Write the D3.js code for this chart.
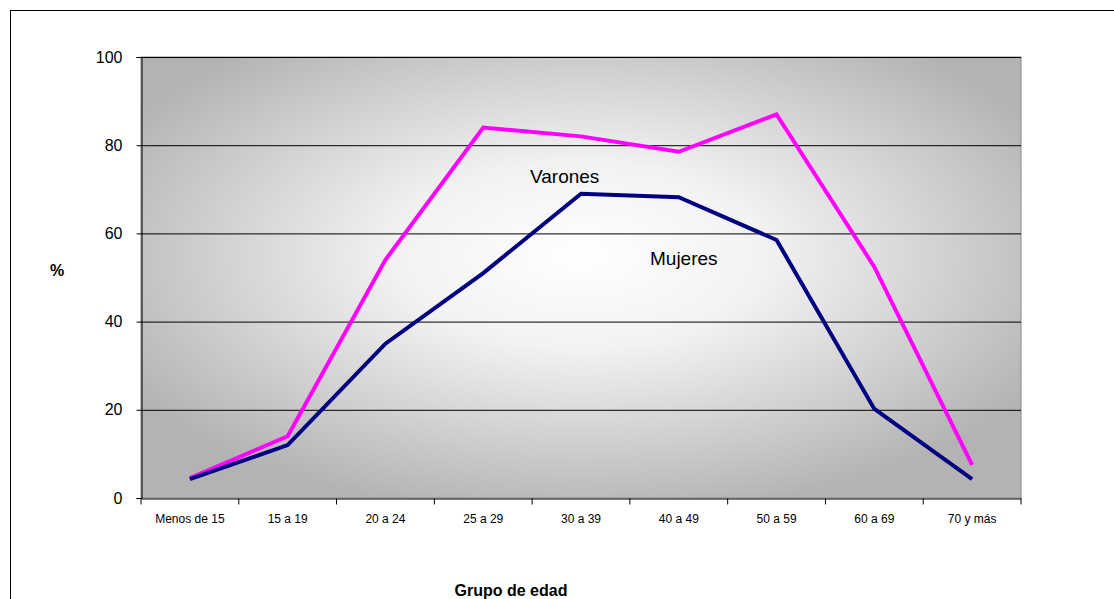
<!DOCTYPE html>
<html><head><meta charset="utf-8">
<script src="https://cdn.jsdelivr.net/npm/d3@7"></script>
<style>body{margin:0;background:#fff;font-family:"Liberation Sans",Arial,sans-serif}</style>
</head><body><div id="chart"></div>
<script>
const categories = ["Menos de 15","15 a 19","20 a 24","25 a 29","30 a 39","40 a 49","50 a 59","60 a 69","70 y más"];
const magenta = [4.5,14,54,84,82,78.5,87,52.4,7.5];
const navy = [4.3,12,35,51,69,68.2,58.5,20.2,4.3];
const yTicks = [0,20,40,60,80,100];

const W = 1114, H = 599;
const m = {left:141, right:93, top:57, bottom:101};
const svg = d3.select("#chart").append("svg").attr("width",W).attr("height",H)
  .style("font-family","Liberation Sans, Arial, sans-serif");
svg.append("rect").attr("x",10.5).attr("y",10.5).attr("width",W).attr("height",H)
  .attr("fill","#fff").attr("stroke","#000");

const defs = svg.append("defs");
const g1 = defs.append("radialGradient").attr("id","bg").attr("cx","50%").attr("cy","45%").attr("r","60%");
g1.append("stop").attr("offset","0%").attr("stop-color","#ffffff");
g1.append("stop").attr("offset","35%").attr("stop-color","#f2f2f2");
g1.append("stop").attr("offset","100%").attr("stop-color","#b3b3b3");

const x = d3.scaleBand().domain(categories).range([m.left, W-m.right]);
const y = d3.scaleLinear().domain([0,100]).range([H-m.bottom, m.top]);

svg.append("rect").attr("x",m.left).attr("y",m.top).attr("width",W-m.left-m.right)
  .attr("height",H-m.top-m.bottom).attr("fill","url(#bg)").attr("stroke","#888");

svg.append("g").selectAll("line").data(yTicks.slice(1)).join("line")
  .attr("x1",m.left).attr("x2",W-m.right).attr("y1",d=>y(d)+0.5).attr("y2",d=>y(d)+0.5).attr("stroke","#000");

const ya = svg.append("g").attr("transform",`translate(${m.left+0.5},0)`)
  .call(d3.axisLeft(y).tickValues(yTicks).tickSize(5).tickPadding(14));
ya.attr("font-family",null);
ya.selectAll("text").style("font-size","16px");
const xa = svg.append("g").attr("transform",`translate(0,${H-m.bottom+0.5})`)
  .call(d3.axisBottom(x).tickSize(0).tickPadding(16));
xa.attr("font-family",null);
xa.selectAll("text").style("font-size","12px");
xa.selectAll(".bt").data(categories.concat([null])).join("line")
  .attr("x1",(d,i)=>m.left+i*x.bandwidth()).attr("x2",(d,i)=>m.left+i*x.bandwidth())
  .attr("y1",0).attr("y2",6).attr("stroke","#000");

const line = d3.line().x((d,i)=>x(categories[i])+x.bandwidth()/2).y(d=>y(d));
svg.append("path").datum(magenta).attr("d",line).attr("fill","none").attr("stroke","#ff00ff").attr("stroke-width",4);
svg.append("path").datum(navy).attr("d",line).attr("fill","none").attr("stroke","#000080").attr("stroke-width",4);

svg.append("text").attr("x",530).attr("y",183).style("font-size","19px").text("Varones");
svg.append("text").attr("x",650).attr("y",265).style("font-size","19px").text("Mujeres");
svg.append("text").attr("x",57).attr("y",276).attr("text-anchor","middle").style("font-size","16px").style("font-weight","bold").text("%");
svg.append("text").attr("x",511).attr("y",596).attr("text-anchor","middle").style("font-size","16px").style("font-weight","bold").text("Grupo de edad");
</script></body></html>
